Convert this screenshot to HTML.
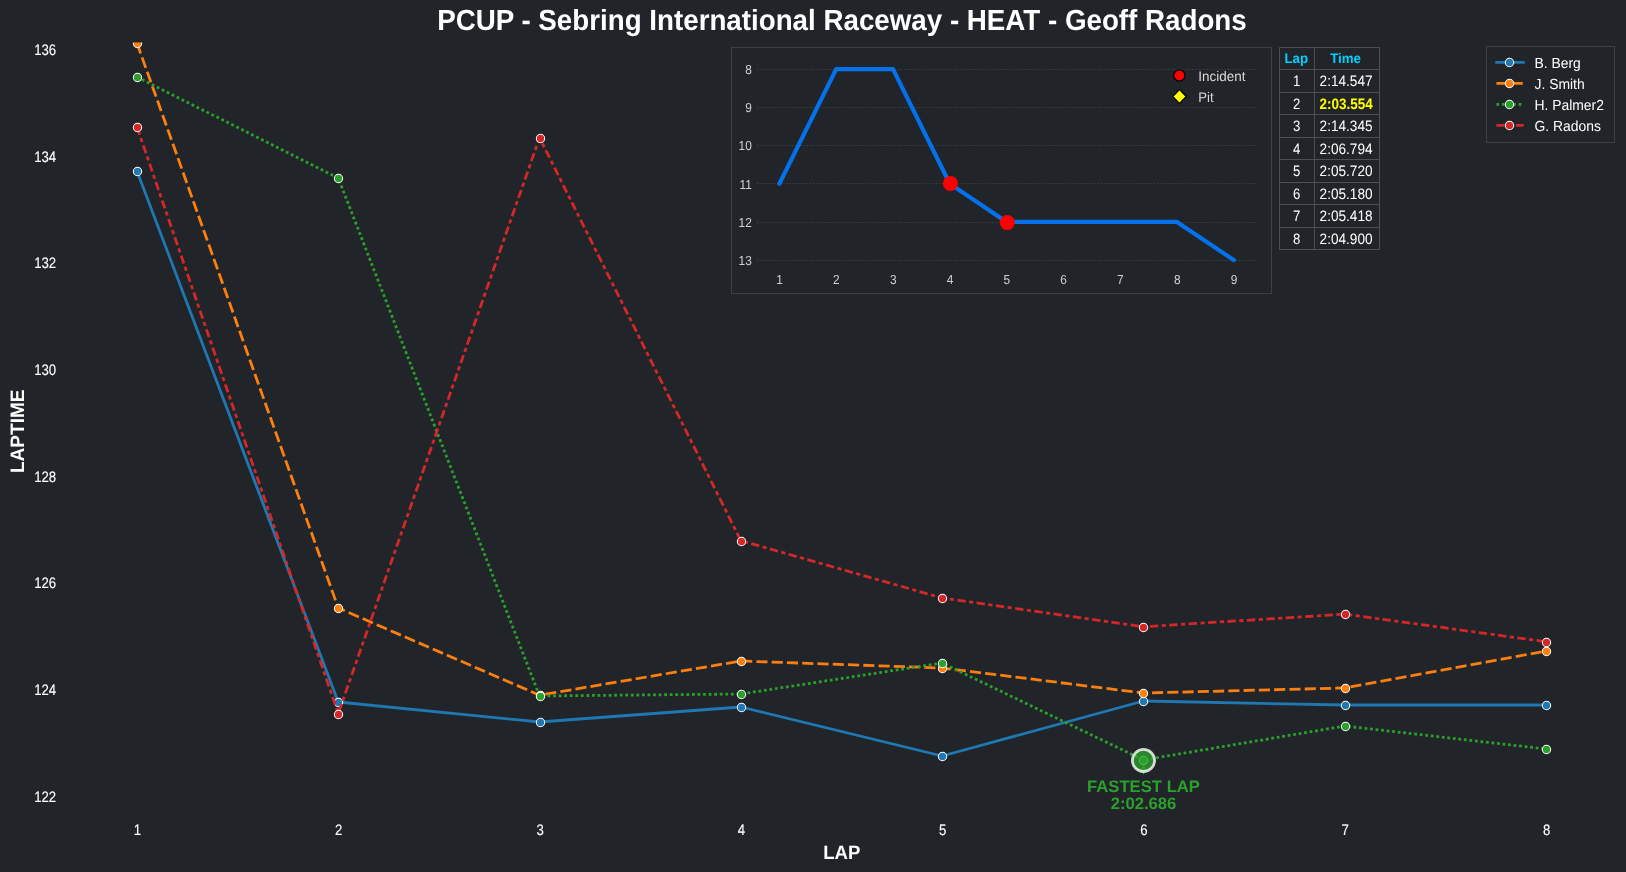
<!DOCTYPE html>
<html><head><meta charset="utf-8"><style>
html,body{margin:0;padding:0;background:#212529;width:1626px;height:872px;overflow:hidden}
svg{position:absolute;left:0;top:0;will-change:transform}
svg text{font-family:"Liberation Sans",sans-serif;text-rendering:geometricPrecision}
</style></head><body>
<svg width="1626" height="872" viewBox="0 0 1626 872">
<defs><clipPath id="mainclip"><rect x="60" y="42.6" width="1566" height="800"/></clipPath></defs>
<rect width="1626" height="872" fill="#212529"/>
<text transform="translate(841.95,30.30) scale(0.9989,1.05)" text-anchor="middle" font-weight="bold" font-size="27.78" fill="#ffffff">PCUP - Sebring International Raceway - HEAT - Geoff Radons</text>
<text transform="translate(56.20,801.90) scale(0.95,1.09)" text-anchor="end" stroke="#ffffff" stroke-width="0.12" font-size="13.89" fill="#ffffff">122</text>
<text transform="translate(56.20,695.18) scale(0.95,1.09)" text-anchor="end" stroke="#ffffff" stroke-width="0.12" font-size="13.89" fill="#ffffff">124</text>
<text transform="translate(56.20,588.47) scale(0.95,1.09)" text-anchor="end" stroke="#ffffff" stroke-width="0.12" font-size="13.89" fill="#ffffff">126</text>
<text transform="translate(56.20,481.76) scale(0.95,1.09)" text-anchor="end" stroke="#ffffff" stroke-width="0.12" font-size="13.89" fill="#ffffff">128</text>
<text transform="translate(56.20,375.04) scale(0.95,1.09)" text-anchor="end" stroke="#ffffff" stroke-width="0.12" font-size="13.89" fill="#ffffff">130</text>
<text transform="translate(56.20,268.33) scale(0.95,1.09)" text-anchor="end" stroke="#ffffff" stroke-width="0.12" font-size="13.89" fill="#ffffff">132</text>
<text transform="translate(56.20,161.61) scale(0.95,1.09)" text-anchor="end" stroke="#ffffff" stroke-width="0.12" font-size="13.89" fill="#ffffff">134</text>
<text transform="translate(56.20,54.90) scale(0.95,1.09)" text-anchor="end" stroke="#ffffff" stroke-width="0.12" font-size="13.89" fill="#ffffff">136</text>
<text transform="translate(137.45,835.10) scale(0.95,1.09)" text-anchor="middle" stroke="#ffffff" stroke-width="0.12" font-size="13.89" fill="#ffffff">1</text>
<text transform="translate(338.75,835.10) scale(0.95,1.09)" text-anchor="middle" stroke="#ffffff" stroke-width="0.12" font-size="13.89" fill="#ffffff">2</text>
<text transform="translate(540.05,835.10) scale(0.95,1.09)" text-anchor="middle" stroke="#ffffff" stroke-width="0.12" font-size="13.89" fill="#ffffff">3</text>
<text transform="translate(741.35,835.10) scale(0.95,1.09)" text-anchor="middle" stroke="#ffffff" stroke-width="0.12" font-size="13.89" fill="#ffffff">4</text>
<text transform="translate(942.65,835.10) scale(0.95,1.09)" text-anchor="middle" stroke="#ffffff" stroke-width="0.12" font-size="13.89" fill="#ffffff">5</text>
<text transform="translate(1143.95,835.10) scale(0.95,1.09)" text-anchor="middle" stroke="#ffffff" stroke-width="0.12" font-size="13.89" fill="#ffffff">6</text>
<text transform="translate(1345.25,835.10) scale(0.95,1.09)" text-anchor="middle" stroke="#ffffff" stroke-width="0.12" font-size="13.89" fill="#ffffff">7</text>
<text transform="translate(1546.55,835.10) scale(0.95,1.09)" text-anchor="middle" stroke="#ffffff" stroke-width="0.12" font-size="13.89" fill="#ffffff">8</text>
<text transform="translate(841.70,858.90) scale(0.955,1.0)" text-anchor="middle" font-weight="bold" font-size="19.44" fill="#ffffff">LAP</text>
<text transform="translate(24.10,431.30) rotate(-90) scale(0.98,1.0)" text-anchor="middle" font-weight="bold" font-size="19.44" fill="#ffffff">LAPTIME</text>
<g clip-path="url(#mainclip)">
<path d="M1143.5,764.3 L1147.0,772.0 L1140.0,772.0 Z" fill="#2ca02c"/><line x1="1143.5" y1="771" x2="1143.5" y2="774.2" stroke="#2ca02c" stroke-width="1.4"/>
<polyline points="136.95,171.00 338.25,702.00 539.55,722.00 740.85,707.00 942.15,756.00 1143.45,701.00 1344.75,705.00 1546.05,705.00" fill="none" stroke="#1f77b4" stroke-width="2.7777777777777777" stroke-linejoin="round" stroke-linecap="round"/>
<circle cx="137.5" cy="171.5" r="4.17" fill="#1f77b4" stroke="#ffffff" stroke-width="1.04"/>
<circle cx="338.5" cy="702.5" r="4.17" fill="#1f77b4" stroke="#ffffff" stroke-width="1.04"/>
<circle cx="540.5" cy="722.5" r="4.17" fill="#1f77b4" stroke="#ffffff" stroke-width="1.04"/>
<circle cx="741.5" cy="707.5" r="4.17" fill="#1f77b4" stroke="#ffffff" stroke-width="1.04"/>
<circle cx="942.5" cy="756.5" r="4.17" fill="#1f77b4" stroke="#ffffff" stroke-width="1.04"/>
<circle cx="1143.5" cy="701.5" r="4.17" fill="#1f77b4" stroke="#ffffff" stroke-width="1.04"/>
<circle cx="1345.5" cy="705.5" r="4.17" fill="#1f77b4" stroke="#ffffff" stroke-width="1.04"/>
<circle cx="1546.5" cy="705.5" r="4.17" fill="#1f77b4" stroke="#ffffff" stroke-width="1.04"/>
<polyline points="136.95,43.00 338.25,608.00 539.55,695.20 740.85,661.00 942.15,668.00 1143.45,693.00 1344.75,688.00 1546.05,651.00" fill="none" stroke="#ff7f0e" stroke-width="2.7777777777777777" stroke-linejoin="round" stroke-linecap="butt" stroke-dasharray="11.111 4.167"/>
<circle cx="137.5" cy="43.5" r="4.17" fill="#ff7f0e" stroke="#ffffff" stroke-width="1.04"/>
<circle cx="338.5" cy="608.5" r="4.17" fill="#ff7f0e" stroke="#ffffff" stroke-width="1.04"/>
<circle cx="540.5" cy="695.5" r="4.17" fill="#ff7f0e" stroke="#ffffff" stroke-width="1.04"/>
<circle cx="741.5" cy="661.5" r="4.17" fill="#ff7f0e" stroke="#ffffff" stroke-width="1.04"/>
<circle cx="942.5" cy="668.5" r="4.17" fill="#ff7f0e" stroke="#ffffff" stroke-width="1.04"/>
<circle cx="1143.5" cy="693.5" r="4.17" fill="#ff7f0e" stroke="#ffffff" stroke-width="1.04"/>
<circle cx="1345.5" cy="688.5" r="4.17" fill="#ff7f0e" stroke="#ffffff" stroke-width="1.04"/>
<circle cx="1546.5" cy="651.5" r="4.17" fill="#ff7f0e" stroke="#ffffff" stroke-width="1.04"/>
<polyline points="136.95,77.00 338.25,178.00 539.55,696.00 740.85,694.00 942.15,663.00 1143.45,760.00 1344.75,726.00 1546.05,749.00" fill="none" stroke="#2ca02c" stroke-width="2.7777777777777777" stroke-linejoin="round" stroke-linecap="butt" stroke-dasharray="2.778 2.778"/>
<circle cx="137.5" cy="77.5" r="4.17" fill="#2ca02c" stroke="#ffffff" stroke-width="1.04"/>
<circle cx="338.5" cy="178.5" r="4.17" fill="#2ca02c" stroke="#ffffff" stroke-width="1.04"/>
<circle cx="540.5" cy="696.5" r="4.17" fill="#2ca02c" stroke="#ffffff" stroke-width="1.04"/>
<circle cx="741.5" cy="694.5" r="4.17" fill="#2ca02c" stroke="#ffffff" stroke-width="1.04"/>
<circle cx="942.5" cy="663.5" r="4.17" fill="#2ca02c" stroke="#ffffff" stroke-width="1.04"/>
<circle cx="1143.5" cy="760.5" r="4.17" fill="#2ca02c" stroke="#ffffff" stroke-width="1.04"/>
<circle cx="1345.5" cy="726.5" r="4.17" fill="#2ca02c" stroke="#ffffff" stroke-width="1.04"/>
<circle cx="1546.5" cy="749.5" r="4.17" fill="#2ca02c" stroke="#ffffff" stroke-width="1.04"/>
<polyline points="136.95,126.90 338.25,713.59 539.55,137.68 740.85,540.67 942.15,597.99 1143.45,626.81 1344.75,614.11 1546.05,641.76" fill="none" stroke="#d62728" stroke-width="2.7777777777777777" stroke-linejoin="round" stroke-linecap="butt" stroke-dasharray="8.333 3.472 4.167 3.472"/>
<circle cx="137.5" cy="127.5" r="4.17" fill="#d62728" stroke="#ffffff" stroke-width="1.04"/>
<circle cx="338.5" cy="714.5" r="4.17" fill="#d62728" stroke="#ffffff" stroke-width="1.04"/>
<circle cx="540.5" cy="138.5" r="4.17" fill="#d62728" stroke="#ffffff" stroke-width="1.04"/>
<circle cx="741.5" cy="541.5" r="4.17" fill="#d62728" stroke="#ffffff" stroke-width="1.04"/>
<circle cx="942.5" cy="598.5" r="4.17" fill="#d62728" stroke="#ffffff" stroke-width="1.04"/>
<circle cx="1143.5" cy="627.5" r="4.17" fill="#d62728" stroke="#ffffff" stroke-width="1.04"/>
<circle cx="1345.5" cy="614.5" r="4.17" fill="#d62728" stroke="#ffffff" stroke-width="1.04"/>
<circle cx="1546.5" cy="642.5" r="4.17" fill="#d62728" stroke="#ffffff" stroke-width="1.04"/>
<circle cx="1143.5" cy="760.5" r="11.1" fill="#2ca02c" fill-opacity="0.8" stroke="#ffffff" stroke-opacity="0.8" stroke-width="2.78"/>
</g>
<text transform="translate(1143.50,792.00)" text-anchor="middle" font-weight="bold" font-size="16.67" fill="#2ca02c">FASTEST LAP</text>
<text transform="translate(1143.50,809.00)" text-anchor="middle" font-weight="bold" font-size="16.67" fill="#2ca02c">2:02.686</text>
<rect x="1486.5" y="46.5" width="128" height="96" fill="none" stroke="#3d4145" stroke-width="1"/>
<line x1="1496.4" y1="62.4" x2="1523.7" y2="62.4" stroke="#1f77b4" stroke-width="2.7777777777777777" stroke-linecap="round"/>
<circle cx="1509.5" cy="62.5" r="4.17" fill="#1f77b4" stroke="#ffffff" stroke-width="1.04"/>
<text transform="translate(1534.50,67.90) scale(1.0,1.05)" text-anchor="start" font-size="13.89" fill="#ffffff">B. Berg</text>
<line x1="1496.4" y1="83.4" x2="1523.7" y2="83.4" stroke="#ff7f0e" stroke-width="2.7777777777777777" stroke-linecap="butt" stroke-dasharray="11.111 4.167"/>
<circle cx="1509.5" cy="83.5" r="4.17" fill="#ff7f0e" stroke="#ffffff" stroke-width="1.04"/>
<text transform="translate(1534.50,88.90) scale(1.0,1.05)" text-anchor="start" font-size="13.89" fill="#ffffff">J. Smith</text>
<line x1="1496.4" y1="104.4" x2="1523.7" y2="104.4" stroke="#2ca02c" stroke-width="2.7777777777777777" stroke-linecap="butt" stroke-dasharray="2.778 2.778"/>
<circle cx="1509.5" cy="104.5" r="4.17" fill="#2ca02c" stroke="#ffffff" stroke-width="1.04"/>
<text transform="translate(1534.50,109.90) scale(1.0,1.05)" text-anchor="start" font-size="13.89" fill="#ffffff">H. Palmer2</text>
<line x1="1496.4" y1="125.4" x2="1523.7" y2="125.4" stroke="#d62728" stroke-width="2.7777777777777777" stroke-linecap="butt" stroke-dasharray="8.333 3.472 4.167 3.472"/>
<circle cx="1509.5" cy="125.5" r="4.17" fill="#d62728" stroke="#ffffff" stroke-width="1.04"/>
<text transform="translate(1534.50,130.90) scale(1.0,1.05)" text-anchor="start" font-size="13.89" fill="#ffffff">G. Radons</text>
<rect x="731.5" y="47.5" width="540" height="246" fill="none" stroke="#3b3f43" stroke-width="1"/>
<line x1="757" y1="69.50" x2="1256.5" y2="69.50" stroke="#42454a" stroke-width="1.0" stroke-dasharray="1.11 1.83"/>
<text transform="translate(751.80,73.90) scale(0.95,1.04)" text-anchor="end" font-size="12.5" fill="#d0d0d0">8</text>
<line x1="757" y1="107.50" x2="1256.5" y2="107.50" stroke="#42454a" stroke-width="1.0" stroke-dasharray="1.11 1.83"/>
<text transform="translate(751.80,112.10) scale(0.95,1.04)" text-anchor="end" font-size="12.5" fill="#d0d0d0">9</text>
<line x1="757" y1="145.50" x2="1256.5" y2="145.50" stroke="#42454a" stroke-width="1.0" stroke-dasharray="1.11 1.83"/>
<text transform="translate(751.80,150.30) scale(0.95,1.04)" text-anchor="end" font-size="12.5" fill="#d0d0d0">10</text>
<line x1="757" y1="183.50" x2="1256.5" y2="183.50" stroke="#42454a" stroke-width="1.0" stroke-dasharray="1.11 1.83"/>
<text transform="translate(751.80,188.50) scale(0.95,1.04)" text-anchor="end" font-size="12.5" fill="#d0d0d0">11</text>
<line x1="757" y1="222.50" x2="1256.5" y2="222.50" stroke="#42454a" stroke-width="1.0" stroke-dasharray="1.11 1.83"/>
<text transform="translate(751.80,226.70) scale(0.95,1.04)" text-anchor="end" font-size="12.5" fill="#d0d0d0">12</text>
<line x1="757" y1="260.50" x2="1256.5" y2="260.50" stroke="#42454a" stroke-width="1.0" stroke-dasharray="1.11 1.83"/>
<text transform="translate(751.80,264.90) scale(0.95,1.04)" text-anchor="end" font-size="12.5" fill="#d0d0d0">13</text>
<text transform="translate(779.60,284.30) scale(0.95,1.04)" text-anchor="middle" font-size="12.5" fill="#d0d0d0">1</text>
<text transform="translate(836.40,284.30) scale(0.95,1.04)" text-anchor="middle" font-size="12.5" fill="#d0d0d0">2</text>
<text transform="translate(893.20,284.30) scale(0.95,1.04)" text-anchor="middle" font-size="12.5" fill="#d0d0d0">3</text>
<text transform="translate(950.00,284.30) scale(0.95,1.04)" text-anchor="middle" font-size="12.5" fill="#d0d0d0">4</text>
<text transform="translate(1006.80,284.30) scale(0.95,1.04)" text-anchor="middle" font-size="12.5" fill="#d0d0d0">5</text>
<text transform="translate(1063.60,284.30) scale(0.95,1.04)" text-anchor="middle" font-size="12.5" fill="#d0d0d0">6</text>
<text transform="translate(1120.40,284.30) scale(0.95,1.04)" text-anchor="middle" font-size="12.5" fill="#d0d0d0">7</text>
<text transform="translate(1177.20,284.30) scale(0.95,1.04)" text-anchor="middle" font-size="12.5" fill="#d0d0d0">8</text>
<text transform="translate(1234.00,284.30) scale(0.95,1.04)" text-anchor="middle" font-size="12.5" fill="#d0d0d0">9</text>
<polyline points="779.40,183.70 836.20,69.10 893.00,69.10 949.80,183.70 1006.60,221.90 1063.40,221.90 1120.20,221.90 1177.00,221.90 1233.80,260.10" fill="none" stroke="#007bff" stroke-opacity="0.9" stroke-width="4.17" stroke-linejoin="round" stroke-linecap="round"/>
<circle cx="950.4" cy="183.4" r="7.5" fill="#ff0000"/>
<circle cx="1007.3" cy="222.6" r="7.5" fill="#ff0000"/>
<circle cx="1179.4" cy="75.5" r="5.6" fill="#ff0000" stroke="#000" stroke-width="1.4"/>
<path d="M1179.5,89.5 L1186.3,96.5 L1179.5,103.5 L1172.7,96.5 Z" fill="#ffff00" stroke="#000" stroke-width="1.2"/>
<text transform="translate(1198.30,81.00) scale(0.97,1.0)" text-anchor="start" font-size="13.89" fill="#d8d8d8">Incident</text>
<text transform="translate(1198.30,102.00) scale(0.95,1.0)" text-anchor="start" font-size="13.89" fill="#d8d8d8">Pit</text>
<line x1="1279.5" y1="47.50" x2="1379.5" y2="47.50" stroke="#4f4f4f" stroke-width="1"/>
<line x1="1279.5" y1="69.50" x2="1379.5" y2="69.50" stroke="#4f4f4f" stroke-width="1"/>
<line x1="1279.5" y1="92.50" x2="1379.5" y2="92.50" stroke="#4f4f4f" stroke-width="1"/>
<line x1="1279.5" y1="114.50" x2="1379.5" y2="114.50" stroke="#4f4f4f" stroke-width="1"/>
<line x1="1279.5" y1="137.50" x2="1379.5" y2="137.50" stroke="#4f4f4f" stroke-width="1"/>
<line x1="1279.5" y1="159.50" x2="1379.5" y2="159.50" stroke="#4f4f4f" stroke-width="1"/>
<line x1="1279.5" y1="182.50" x2="1379.5" y2="182.50" stroke="#4f4f4f" stroke-width="1"/>
<line x1="1279.5" y1="204.50" x2="1379.5" y2="204.50" stroke="#4f4f4f" stroke-width="1"/>
<line x1="1279.5" y1="227.50" x2="1379.5" y2="227.50" stroke="#4f4f4f" stroke-width="1"/>
<line x1="1279.5" y1="249.50" x2="1379.5" y2="249.50" stroke="#4f4f4f" stroke-width="1"/>
<line x1="1279.5" y1="47.5" x2="1279.5" y2="249.50" stroke="#4f4f4f" stroke-width="1"/>
<line x1="1314.5" y1="47.5" x2="1314.5" y2="249.50" stroke="#4f4f4f" stroke-width="1"/>
<line x1="1379.5" y1="47.5" x2="1379.5" y2="249.50" stroke="#4f4f4f" stroke-width="1"/>
<text transform="translate(1296.25,62.90) scale(0.96,1.0)" text-anchor="middle" font-weight="bold" font-size="13.89" fill="#00d0ff">Lap</text>
<text transform="translate(1345.55,62.90) scale(0.96,1.0)" text-anchor="middle" font-weight="bold" font-size="13.89" fill="#00d0ff">Time</text>
<text transform="translate(1296.65,85.56) scale(0.95,1.09)" text-anchor="middle" font-size="13.89" fill="#ffffff">1</text>
<text transform="translate(1346.05,85.56) scale(0.98,1.09)" text-anchor="middle" font-size="13.89" fill="#ffffff">2:14.547</text>
<text transform="translate(1296.65,108.56) scale(0.95,1.09)" text-anchor="middle" font-size="13.89" fill="#ffffff">2</text>
<text transform="translate(1346.05,108.56) scale(0.97,1.09)" text-anchor="middle" font-weight="bold" font-size="13.89" fill="#ffff00">2:03.554</text>
<text transform="translate(1296.65,130.56) scale(0.95,1.09)" text-anchor="middle" font-size="13.89" fill="#ffffff">3</text>
<text transform="translate(1346.05,130.56) scale(0.98,1.09)" text-anchor="middle" font-size="13.89" fill="#ffffff">2:14.345</text>
<text transform="translate(1296.65,153.56) scale(0.95,1.09)" text-anchor="middle" font-size="13.89" fill="#ffffff">4</text>
<text transform="translate(1346.05,153.56) scale(0.98,1.09)" text-anchor="middle" font-size="13.89" fill="#ffffff">2:06.794</text>
<text transform="translate(1296.65,175.56) scale(0.95,1.09)" text-anchor="middle" font-size="13.89" fill="#ffffff">5</text>
<text transform="translate(1346.05,175.56) scale(0.98,1.09)" text-anchor="middle" font-size="13.89" fill="#ffffff">2:05.720</text>
<text transform="translate(1296.65,198.56) scale(0.95,1.09)" text-anchor="middle" font-size="13.89" fill="#ffffff">6</text>
<text transform="translate(1346.05,198.56) scale(0.98,1.09)" text-anchor="middle" font-size="13.89" fill="#ffffff">2:05.180</text>
<text transform="translate(1296.65,220.56) scale(0.95,1.09)" text-anchor="middle" font-size="13.89" fill="#ffffff">7</text>
<text transform="translate(1346.05,220.56) scale(0.98,1.09)" text-anchor="middle" font-size="13.89" fill="#ffffff">2:05.418</text>
<text transform="translate(1296.65,243.56) scale(0.95,1.09)" text-anchor="middle" font-size="13.89" fill="#ffffff">8</text>
<text transform="translate(1346.05,243.56) scale(0.98,1.09)" text-anchor="middle" font-size="13.89" fill="#ffffff">2:04.900</text>
</svg>
</body></html>
